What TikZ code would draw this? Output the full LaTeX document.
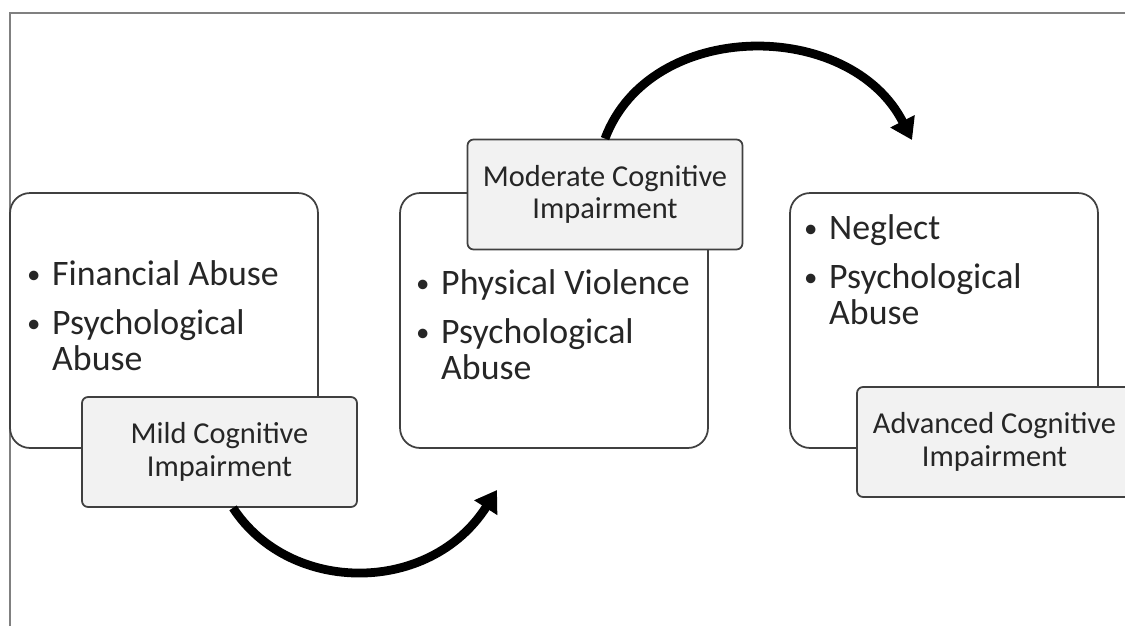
\documentclass[tikz,border=0pt]{standalone}
\usepackage{fontspec}
\setmainfont{Carlito}
\usetikzlibrary{arrows.meta}
\newcommand{\bul}{\makebox[0.75em][l]{\hspace{0.05em}\raisebox{0.06em}{\scalebox{0.75}{\textbullet}}}}
\newcommand{\cont}{\makebox[0.75em]{}}
\tikzset{
  stagebox/.style={draw=black!75,line width=1pt,rounded corners=0.4cm,minimum width=6.16cm,minimum height=5.1cm,inner sep=0pt},
  stagelabel/.style={draw=black!75,line width=1pt,fill=black!5,rounded corners=0.12cm,minimum width=5.5cm,minimum height=2.2cm,inner sep=0pt,align=center,font=\fontsize{17.3}{18.4}\selectfont,text=black!85},
  bullets/.style={anchor=west,inner sep=0pt,font=\fontsize{20.4}{20.4}\selectfont,text=black!85},
  bigarrow/.style={line width=5pt,-{Triangle[length=0.42cm,width=0.52cm]}}
}
\begin{document}
\begin{tikzpicture}[x=0.02cm,y=-0.02cm]
	\useasboundingbox (0,0) rectangle (1125,626);
	\draw[black!50,line width=1.5pt] (10,626) -- (10,13) -- (1125,13);
	\node[stagebox] (mild) at (164,320.5) {};
	\node[stagebox] (moderate) at (554,320.5) {};
	\node[stagebox] (advanced) at (944,320.5) {};
	\node[bullets] (mildtext) at (25,320.5) {\begin{tabular}{@{}l@{}}\bul Financial Abuse\\[0.26cm] \bul Psychological\\ \cont Abuse\end{tabular}};
	\node[bullets] (moderatetext) at (414,330) {\begin{tabular}{@{}l@{}}\bul Physical Violence\\[0.26cm] \bul Psychological\\ \cont Abuse\end{tabular}};
	\node[bullets] (advancedtext) at (802,275) {\begin{tabular}{@{}l@{}}\bul Neglect\\[0.26cm] \bul Psychological\\ \cont Abuse\end{tabular}};
	\node[stagelabel] (mildlab) at (219.5,452) {Mild Cognitive\\Impairment};
	\node[stagelabel] (moderatelab) at (605,194.5) {Moderate Cognitive\\Impairment};
	\node[stagelabel] (advancedlab) at (994.5,442) {Advanced Cognitive\\Impairment};
	\coordinate (tipone) at (497,490);
	\coordinate (tiptwo) at (912,140);
	\draw[bigarrow] ([xshift=0.27cm]mildlab.south) .. controls (290,595) and (430,595) .. (tipone);
	\draw[bigarrow] (moderatelab.north) .. controls (650,18) and (850,18) .. (tiptwo);
\end{tikzpicture}
\end{document}
